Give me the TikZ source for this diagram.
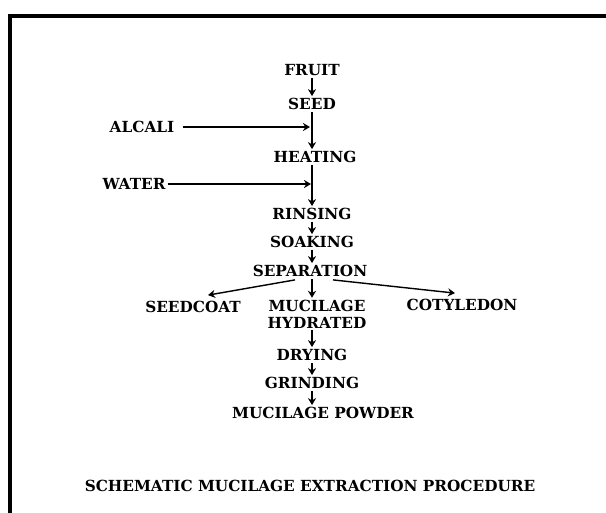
\documentclass[tikz,border=0pt]{standalone}
\usepackage{fontspec}
\setmainfont{DejaVu Serif}
\usetikzlibrary{arrows.meta}
\usetikzlibrary{calc,positioning}

\tikzset{
  lbl/.style={inner sep=1pt, font=\fontsize{8.7}{9.6}\selectfont\bfseries},
  flow/.style={->, line width=0.8pt},
}

\begin{document}
\begin{tikzpicture}[>={Stealth[length=4pt,width=4.6pt]}, x=0.02cm, y=-0.02cm]

    \useasboundingbox (0,0) rectangle (606,512);
    \clip (0,0) rectangle (606,512);
    \draw[line width=2pt] (10,16) rectangle (640,560);

    % main column
    \node[lbl] (fruit) at (312,70) {FRUIT};
    \node[lbl] (seed) at (312,104) {SEED};
    \node[lbl] (heating) at (315,157) {HEATING};
    \node[lbl] (rinsing) at (312,214) {RINSING};
    \node[lbl] (soaking) at (312,242) {SOAKING};
    \node[lbl] (sep) at (310,271) {SEPARATION};
    \node[lbl, align=center] (muci) at (317,314) {MUCILAGE\\HYDRATED};
    \node[lbl] (drying) at (312,355) {DRYING};
    \node[lbl] (grinding) at (312,383) {GRINDING};
    \node[lbl] (powder) at (323,413) {MUCILAGE POWDER};

    % side inputs and outputs
    \node[lbl] (alcali) at (142,127) {ALCALI};
    \node[lbl] (water) at (134,184) {WATER};
    \node[lbl] (seedcoat) at (193,307) {SEEDCOAT};
    \node[lbl] (coty) at (462,305) {COTYLEDON};

    \coordinate (in1) at (310,127);
    \coordinate (in2) at (311,184);

    \draw[flow] (fruit) -- (seed);
    \draw[flow] (seed) -- (seed |- heating.north);
    \draw[flow] (heating.south -| seed) -- (seed |- rinsing.north);
    \draw[flow] (rinsing) -- (soaking);
    \draw[flow] (soaking) -- (soaking |- sep.north);
    \draw[flow] (sep.south -| soaking) -- (soaking |- muci.north);
    \draw[flow] (muci.south -| drying) -- (drying);
    \draw[flow] (drying) -- (grinding);
    \draw[flow] (grinding) -- (grinding |- powder.north);

    \draw[flow] ([xshift=4pt]alcali.east) -- (in1);
    \draw[flow] (water.east) -- (in2);

    \draw[flow] ($(sep.south)+(-15,1)$) -- ($(seedcoat.north)+(15,-4)$);
    \draw[flow] ($(sep.south)+(23,1)$) -- ($(coty.north)+(-7,-4)$);

    \node[lbl] (title) at (310,486) {SCHEMATIC MUCILAGE EXTRACTION PROCEDURE};

\end{tikzpicture}
\end{document}
